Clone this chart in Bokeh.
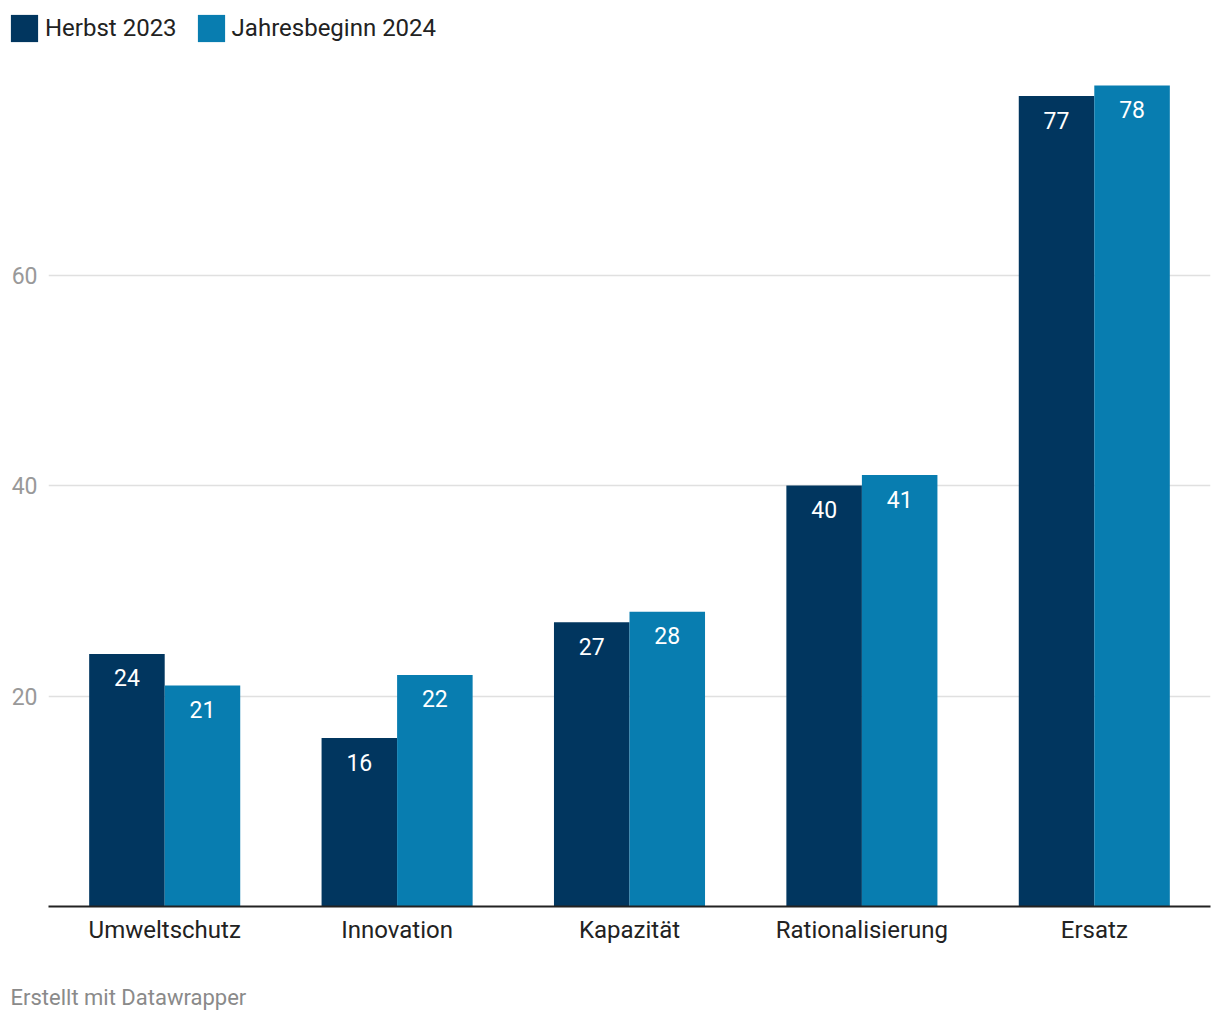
from bokeh.plotting import figure
from bokeh.models import ColumnDataSource, FixedTicker, Legend, LegendItem, Label, Range1d
from bokeh.layouts import column
from bokeh.core.properties import value
from bokeh.embed import file_html
from bokeh.resources import INLINE

categories = ["Umweltschutz", "Innovation", "Kapazität", "Rationalisierung", "Ersatz"]
herbst_2023 = [24, 16, 27, 40, 77]
jahresbeginn_2024 = [21, 22, 28, 41, 78]
series_names = ["Herbst 2023", "Jahresbeginn 2024"]
y_ticks = [20, 40, 60]
footer_text = "Erstellt mit Datawrapper"

DARK = "#01365f"
LIGHT = "#087db0"
FONT = "Roboto"

bar_w = 0.325
idx = list(range(len(categories)))
x1 = [i - bar_w / 2 for i in idx]
x2 = [i + bar_w / 2 for i in idx]

src1 = ColumnDataSource(dict(x=x1, top=herbst_2023, lab=[str(v) for v in herbst_2023]))
src2 = ColumnDataSource(dict(x=x2, top=jahresbeginn_2024, lab=[str(v) for v in jahresbeginn_2024]))


def strip(height, **borders):
    f = figure(width=1220, height=height, output_backend="svg", toolbar_location=None,
               x_axis_type=None, y_axis_type=None,
               x_range=Range1d(1000, 1001), y_range=Range1d(1000, 1001),
               min_border_left=borders.get("left", 0), min_border_right=0,
               min_border_top=borders.get("top", 0), min_border_bottom=0)
    f.outline_line_color = None
    f.grid.visible = False
    f.background_fill_color = "white"
    f.border_fill_color = "white"
    try:
        f.frame_align = False
    except Exception:
        pass
    return f


# ---- legend strip (its ranges keep the series bars out of view, only the legend shows) ----
leg = strip(55, left=7, top=11)
lr1 = leg.vbar(x="x", top="top", width=bar_w, source=src1, color=DARK, line_color=None)
lr2 = leg.vbar(x="x", top="top", width=bar_w, source=src2, color=LIGHT, line_color=None)
legend = Legend(items=[LegendItem(label=series_names[0], renderers=[lr1]),
                       LegendItem(label=series_names[1], renderers=[lr2])],
                location="top_left", orientation="horizontal",
                glyph_width=34, glyph_height=34, label_standoff=4, spacing=17,
                padding=0, margin=0, border_line_color=None, background_fill_alpha=0,
                label_text_font=FONT, label_text_font_size="24px", label_text_color="#222222",
                label_height=34)
leg.add_layout(legend)

# ---- main chart ----
p = figure(width=1220, height=911, output_backend="svg", toolbar_location=None,
           x_range=Range1d(-0.5, 4.5), y_range=Range1d(0, 80.86),
           min_border_left=48, min_border_right=10, min_border_top=0, min_border_bottom=60)
p.outline_line_color = None
p.background_fill_color = "white"
p.border_fill_color = "white"

p.vbar(x="x", top="top", width=bar_w, source=src1, color=DARK, line_color=None)
p.vbar(x="x", top="top", width=bar_w, source=src2, color=LIGHT, line_color=None)

for s in (src1, src2):
    p.text(x="x", y="top", text="lab", source=s, text_color="white", text_font=value(FONT),
           text_font_size="23px", text_align="center", text_baseline="middle", y_offset=24)

p.xaxis.ticker = FixedTicker(ticks=idx)
p.xaxis.major_label_overrides = {i: c for i, c in enumerate(categories)}
p.xaxis.major_tick_line_color = None
p.xaxis.minor_tick_line_color = None
p.xaxis.axis_line_color = "#222222"
p.xaxis.axis_line_width = 2
p.xaxis.major_label_text_font = FONT
p.xaxis.major_label_text_font_size = "24px"
p.xaxis.major_label_text_color = "#222222"
p.xaxis.major_label_standoff = 3

p.yaxis.ticker = FixedTicker(ticks=y_ticks)
p.yaxis.axis_line_color = None
p.yaxis.major_tick_line_color = None
p.yaxis.minor_tick_line_color = None
p.yaxis.major_label_text_font = FONT
p.yaxis.major_label_text_font_size = "23px"
p.yaxis.major_label_text_color = "#999999"
p.yaxis.major_label_standoff = 5

p.xgrid.grid_line_color = None
p.ygrid.ticker = FixedTicker(ticks=y_ticks)
p.ygrid.grid_line_color = "#e0e0e0"
p.ygrid.grid_line_width = 1.5

# ---- footer strip ----
foot = strip(54)
foot.add_layout(Label(x=10, y=23, x_units="screen", y_units="screen", text=footer_text,
                      text_font=FONT, text_font_size="22px", text_color="#8a8a8a",
                      text_baseline="middle", text_align="left"))

layout = column(leg, p, foot, spacing=0)
open("out.html", "w").write(file_html(layout, INLINE))
